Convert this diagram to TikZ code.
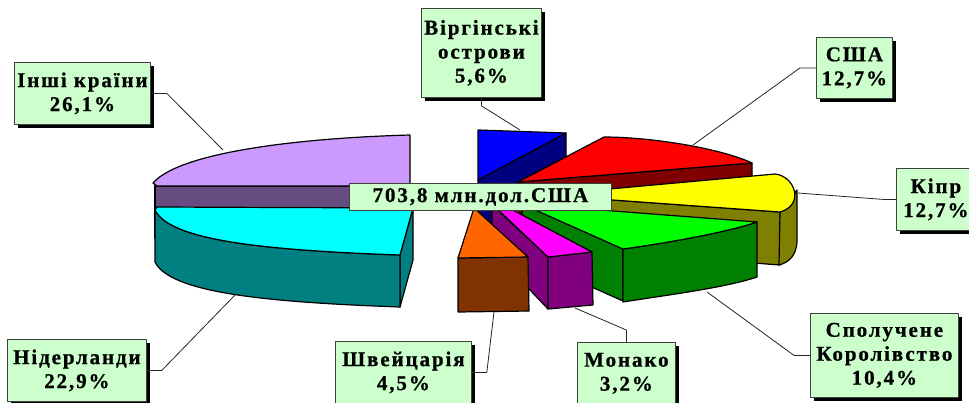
\documentclass[tikz,border=0pt]{standalone}
\usepackage{fontspec}
\setmainfont{Liberation Serif}
\newfontfamily\labfont{Liberation Serif}[LetterSpace=9,BoldFeatures={FakeBold=0.8}]
\usetikzlibrary{shadows}
\definecolor{lilac}{HTML}{CC99FF}
\definecolor{lilacd}{HTML}{664C80}
\definecolor{cblue}{HTML}{0000FF}
\definecolor{cnavy}{HTML}{000080}
\definecolor{cred}{HTML}{FF0000}
\definecolor{cdred}{HTML}{800000}
\definecolor{cyellow}{HTML}{FFFF00}
\definecolor{colive}{HTML}{808000}
\definecolor{ccyan}{HTML}{00FFFF}
\definecolor{cteal}{HTML}{008080}
\definecolor{cgreen}{HTML}{00FF00}
\definecolor{cdgreen}{HTML}{008000}
\definecolor{cmagenta}{HTML}{FF00FF}
\definecolor{cpurple}{HTML}{800080}
\definecolor{corange}{HTML}{FF6600}
\definecolor{cbrown}{HTML}{803300}
\definecolor{labgreen}{HTML}{CCFFCC}
\begin{document}
\begin{tikzpicture}[x=1pt,y=-1pt,line join=round,
  face/.style={draw=black,line width=1.2pt},
  labtext/.style={font=\labfont\fontsize{21}{24}\selectfont\bfseries},
  lab/.style={labtext,draw=black!75,line width=0.8pt,fill=labgreen,anchor=north west,
    inner sep=0pt,align=center,
    general shadow={fill=black,shadow xshift=4pt,shadow yshift=-4pt}},
  totalbox/.style={labtext,draw=black!75,line width=0.8pt,fill=labgreen,anchor=north west,
    inner sep=0pt,align=center},
  leader/.style={draw=black!85,line width=0.8pt}]
\useasboundingbox (0,0) rectangle (969,402);
\clip (0,0) rectangle (969,402);
\fill[white] (0,0) rectangle (969,402);

% Інші країни (lilac)
\path[face,fill=lilacd] (155,186) -- (410,186) -- (410,238) -- (155,238) -- cycle;
\path[face,fill=lilac] (410,135) .. controls (300,138) and (180,152) .. (153,183) -- (157,186) -- (410,186) -- cycle;

% Віргінські острови (blue)
\path[face,fill=cnavy] (478,180) -- (566,133) -- (566,165) -- (492,207) -- (492,222) -- (478,222) -- cycle;
\path[face,fill=cblue] (478,130) -- (566,133) -- (478,180) -- cycle;

% США (red)
\path[face,fill=cdred] (518,182) -- (752,163) -- (752,215) -- (518,234) -- cycle;
\path[face,fill=cred] (518,182) -- (604,137) .. controls (650,137) and (720,148) .. (752,163) -- cycle;

% Кіпр (yellow)
\path[face,fill=colive] (543,195) -- (780,212) -- (780,265) -- (543,247) -- cycle;
\path[face,fill=colive] (780,212) -- (797,190) -- (797,242) .. controls (796,255) and (790,262) .. (779,265) -- cycle;
\path[face,fill=cyellow] (543,195) -- (775,174) .. controls (795,176) and (805,205) .. (780,212) -- cycle;

% Нідерланди (cyan)
\path[face,fill=cteal] (413,208) -- (400,255) -- (400,307) -- (413,260) -- cycle;
\path[face,fill=cteal] (155,210) .. controls (170,240) and (260,250) .. (400,255) -- (400,307) .. controls (260,302) and (170,292) .. (155,262) -- cycle;
\path[face,fill=ccyan] (157,207) -- (413,208) -- (400,255) .. controls (260,250) and (170,240) .. (155,210) -- cycle;

% Сполучене Королівство (green)
\path[face,fill=cdgreen] (522,204) -- (623,249) -- (623,301) -- (522,256) -- cycle;
\path[face,fill=cdgreen] (623,249) .. controls (660,244) and (725,233) .. (757,222) -- (757,277) .. controls (725,288) and (660,296) .. (623,302) -- cycle;
\path[face,fill=cgreen] (522,204) -- (757,222) .. controls (725,233) and (660,244) .. (623,249) -- cycle;

% Монако (magenta)
\path[face,fill=cpurple] (492,205) -- (548,257) -- (548,309) -- (492,250) -- cycle;
\path[face,fill=cpurple] (548,257) -- (592,252) -- (593,305) -- (548,309) -- cycle;
\path[face,fill=cmagenta] (493,205) -- (509,208) -- (592,252) -- (548,257) -- cycle;

% Швейцарія (orange)
\path[face,fill=cbrown] (458,258) -- (528,257) -- (529,311) -- (458,312) -- cycle;
\path[face,fill=corange] (474,208) -- (528,257) -- (458,258) -- cycle;

% total
\node[totalbox,minimum width=262pt,minimum height=27pt] (total) at (349,183) {703,8 млн.дол.США};

% labels
\node[lab,minimum width=136pt,minimum height=62pt] (others) at (14,62) {Інші країни\\26,1\%};
\node[lab,minimum width=120pt,minimum height=89pt] (virgin) at (421,8) {Віргінські\\острови\\5,6\%};
\node[lab,minimum width=76pt,minimum height=61pt] (usa) at (816,37) {США\\12,7\%};
\node[lab,minimum width=79pt,minimum height=62pt] (cyprus) at (896,168) {Кіпр\\12,7\%};
\node[lab,minimum width=148pt,minimum height=84pt] (uk) at (810,313) {Сполучене\\Королівство\\10,4\%};
\node[lab,minimum width=98pt,minimum height=62pt] (monaco) at (577,342) {Монако\\3,2\%};
\node[lab,minimum width=136pt,minimum height=62pt] (swiss) at (335,341) {Швейцарія\\4,5\%};
\node[lab,minimum width=139pt,minimum height=62pt] (neth) at (7,339) {Нідерланди\\22,9\%};

% leader end points
\coordinate (po) at (223,150);
\coordinate (pv) at (520,130);
\coordinate (pu) at (693,145);
\coordinate (pc) at (798,193);
\coordinate (pk) at (707,292);
\coordinate (pm) at (575,308);
\coordinate (ps) at (494,312);
\coordinate (pn) at (235,295);

\draw[leader] (others.east) -- ++(16,0) -- (po);
\draw[leader] (virgin.south) -- ++(0,8) -- (pv);
\draw[leader] (usa.west) -- ++(-16,0) -- (pu);
\draw[leader] (cyprus.west) -- ++(-13,0) -- (pc);
\draw[leader] (uk.west) -- ++(-16,0) -- (pk);
\draw[leader] (monaco.north) -- ++(0,-12) -- (pm);
\draw[leader] (swiss.east) -- ++(15,0) -- (ps);
\draw[leader] (neth.east) -- ++(15,0) -- (pn);
\end{tikzpicture}
\end{document}
